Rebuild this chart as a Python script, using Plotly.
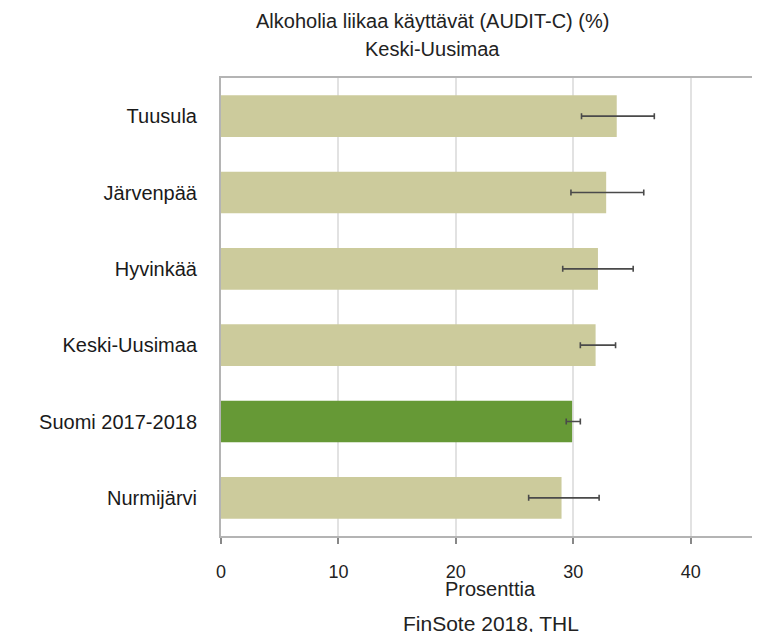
import plotly.graph_objects as go

# Data
alueet = ['Tuusula', 'Järvenpää', 'Hyvinkää', 'Keski-Uusimaa', 'Suomi 2017-2018', 'Nurmijärvi']
osuus = [33.7, 32.8, 32.1, 31.9, 29.9, 29.0]
ala_raja = [30.7, 29.8, 29.1, 30.6, 29.4, 26.2]
yla_raja = [36.9, 36.0, 35.1, 33.6, 30.6, 32.2]
varit = ['#cccb9c', '#cccb9c', '#cccb9c', '#cccb9c', '#669936', '#cccb9c']

plus = [y - o for y, o in zip(yla_raja, osuus)]
minus = [o - a for o, a in zip(osuus, ala_raja)]

fig = go.Figure(go.Bar(
    x=osuus, y=alueet, orientation='h',
    marker=dict(color=varit, line=dict(width=0)),
    error_x=dict(type='data', symmetric=False, array=plus, arrayminus=minus,
                 color='#4a4a4a', thickness=1.6, width=3),
))

teksti = '#222222'

# the page body has an 8px margin, so the figure is drawn 8px smaller
fig.update_layout(
    width=752, height=624,
    margin=dict(l=213, r=0, t=70, b=96),
    paper_bgcolor='white', plot_bgcolor='white',
    font=dict(family='Liberation Sans, Arial, sans-serif', color=teksti),
    bargap=0.455,
    showlegend=False,
    xaxis=dict(range=[0, 45.9], tickvals=[0, 10, 20, 30, 40],
               showgrid=True, gridcolor='#e2e2e2', gridwidth=2,
               zeroline=False, showline=True, linecolor='#b4b4b4', linewidth=2,
               mirror=True, ticks='outside', ticklen=6, tickwidth=2, tickcolor='#888888',
               ticklabelstandoff=12, tickfont=dict(size=18, color=teksti)),
    yaxis=dict(categoryorder='array', categoryarray=alueet, autorange='reversed',
               showgrid=False, showline=True, linecolor='#b4b4b4', linewidth=2,
               ticks='', ticklabelstandoff=18, tickfont=dict(size=20, color='#1a1a1a')),
    annotations=[
        dict(text='Alkoholia liikaa käyttävät (AUDIT-C) (%)', xref='paper', yref='paper',
             x=0.393, y=1.1234, xanchor='center', yanchor='middle', showarrow=False,
             font=dict(size=20, color=teksti)),
        dict(text='Keski-Uusimaa', xref='paper', yref='paper',
             x=0.393, y=1.0633, xanchor='center', yanchor='middle', showarrow=False,
             font=dict(size=20, color=teksti)),
        dict(text='Prosenttia', xref='paper', yref='paper', x=0.5, y=-0.1157,
             xanchor='center', yanchor='middle', showarrow=False,
             font=dict(size=20, color=teksti)),
        dict(text='FinSote 2018, THL', xref='paper', yref='paper', x=0.5, y=-0.19,
             xanchor='center', yanchor='middle', showarrow=False,
             font=dict(size=21, color=teksti)),
    ],
)

fig.write_html('out.html')
